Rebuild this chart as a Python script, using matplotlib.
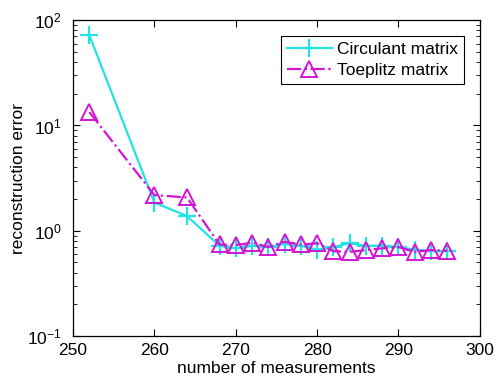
import matplotlib
matplotlib.use("Agg")
import matplotlib.pyplot as plt
from matplotlib.ticker import LogLocator, NullFormatter

plt.rcParams['font.family'] = ['Liberation Sans', 'DejaVu Sans']

# measurements
m = [252, 260, 264, 268, 270, 272, 274, 276, 278, 280, 282, 284, 286, 288, 290, 292, 294, 296]
# reconstruction error
circ_err = [72, 1.85, 1.38, 0.72, 0.68, 0.72, 0.70, 0.75, 0.72, 0.66, 0.70, 0.76, 0.72, 0.72, 0.70, 0.66, 0.64, 0.64]
toep_err = [13.4, 2.18, 2.07, 0.74, 0.73, 0.77, 0.70, 0.785, 0.74, 0.76, 0.64, 0.63, 0.655, 0.68, 0.70, 0.63, 0.655, 0.645]

fig = plt.figure(figsize=(5.04, 3.88), dpi=100)
ax = fig.add_axes([0.145, 0.134, 0.807, 0.814])

ax.semilogy(m, circ_err, '-', color='#22E2E2', lw=1.6, marker='+', ms=13, mew=1.6,
            label='Circulant matrix')
ax.semilogy(m, toep_err, '-.', color='#D414D4', lw=1.6, marker='^', ms=11, mew=1.4,
            mfc='none', label='Toeplitz matrix')

ax.set_xlim(250, 300)
ax.set_ylim(0.1, 100)
ax.set_xticks([250, 260, 270, 280, 290, 300])
ax.yaxis.set_minor_locator(LogLocator(base=10, subs=range(2, 10)))
ax.yaxis.set_minor_formatter(NullFormatter())
ax.tick_params(which='both', direction='in', top=True, right=True, labelsize=12.5)
ax.tick_params(axis='x', pad=5)
ax.tick_params(axis='y', pad=8)
ax.tick_params(which='major', length=5)
ax.tick_params(which='minor', length=3)
for s in ax.spines.values():
    s.set_linewidth(0.9)

ax.set_xlabel('number of measurements', fontsize=12.5, labelpad=2)
ax.set_ylabel('reconstruction error', fontsize=12.5, labelpad=1)

leg = ax.legend(loc='upper right', fontsize=12.5, fancybox=False, framealpha=1,
                edgecolor='black', borderaxespad=0.9, handlelength=2.6,
                labelspacing=0.35, borderpad=0.35, handletextpad=0.3)
leg.get_frame().set_linewidth(0.8)

fig.savefig('out.png', dpi=100)
